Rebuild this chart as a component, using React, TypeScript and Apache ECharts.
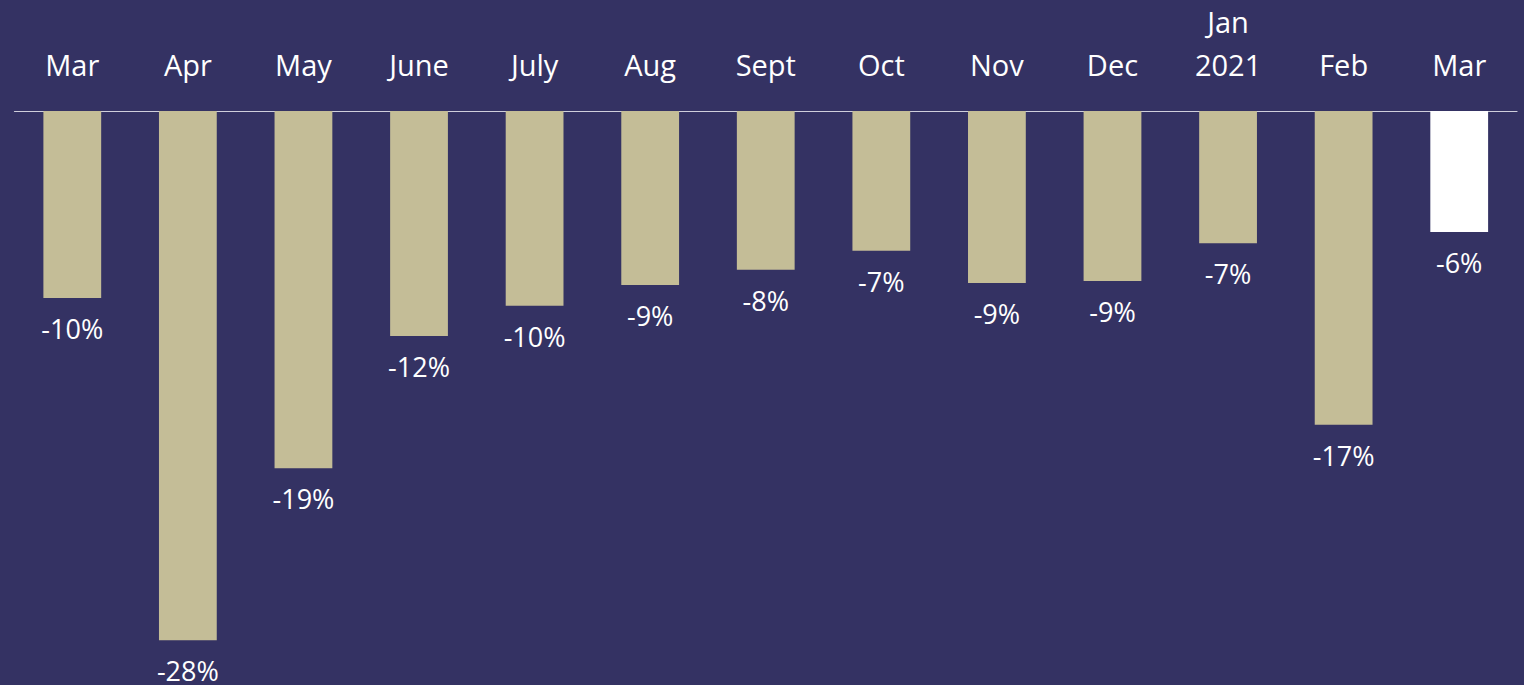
import React, { useEffect, useRef } from "react";
import * as echarts from "echarts";

const categories = ["Mar", "Apr", "May", "June", "July", "Aug", "Sept", "Oct", "Nov", "Dec", "Jan\n2021", "Feb", "Mar"];
const values = [-9.9, -28.0, -18.9, -11.9, -10.3, -9.2, -8.4, -7.4, -9.1, -9.0, -7.0, -16.6, -6.4];
const highlightIndex = 12;

const BG = "#343263";
const BAR = "#C4BD97";
const FONT = "'Open Sans', 'Noto Sans', sans-serif";

export default function App() {
  const ref = useRef<HTMLDivElement>(null);
  useEffect(() => {
    if (!ref.current) return;
    const chart = echarts.init(ref.current, undefined, { renderer: "svg" });
    chart.setOption({
      animation: false,
      backgroundColor: BG,
      grid: { left: 14.5, right: 7, top: 111, bottom: 7, containLabel: false },
      xAxis: {
        type: "category",
        position: "top",
        data: categories,
        axisLine: { show: true, lineStyle: { color: "#CFCFDC", width: 1.2 } },
        axisTick: { show: false },
        axisLabel: {
          color: "#FFFFFF",
          fontFamily: FONT,
          fontSize: 29,
          lineHeight: 43,
          margin: 25,
          interval: 0,
        },
      },
      yAxis: {
        type: "value",
        min: -30,
        max: 0,
        show: false,
        splitLine: { show: false },
      },
      series: [
        {
          type: "bar",
          barWidth: "50%",
          data: values.map((v, i) => ({
            value: v,
            itemStyle: { color: i === highlightIndex ? "#FFFFFF" : BAR },
          })),
          label: {
            show: true,
            position: "bottom",
            distance: 19,
            color: "#FFFFFF",
            fontFamily: FONT,
            fontSize: 27,
            lineHeight: 23,
            formatter: (p: any) => `${Math.round(p.value)}%`,
          },
        },
      ],
    });
    return () => chart.dispose();
  }, []);
  return (
    <div
      ref={ref}
      style={{ position: "fixed", left: 0, top: 0, width: 1524, height: 685 }}
    />
  );
}
